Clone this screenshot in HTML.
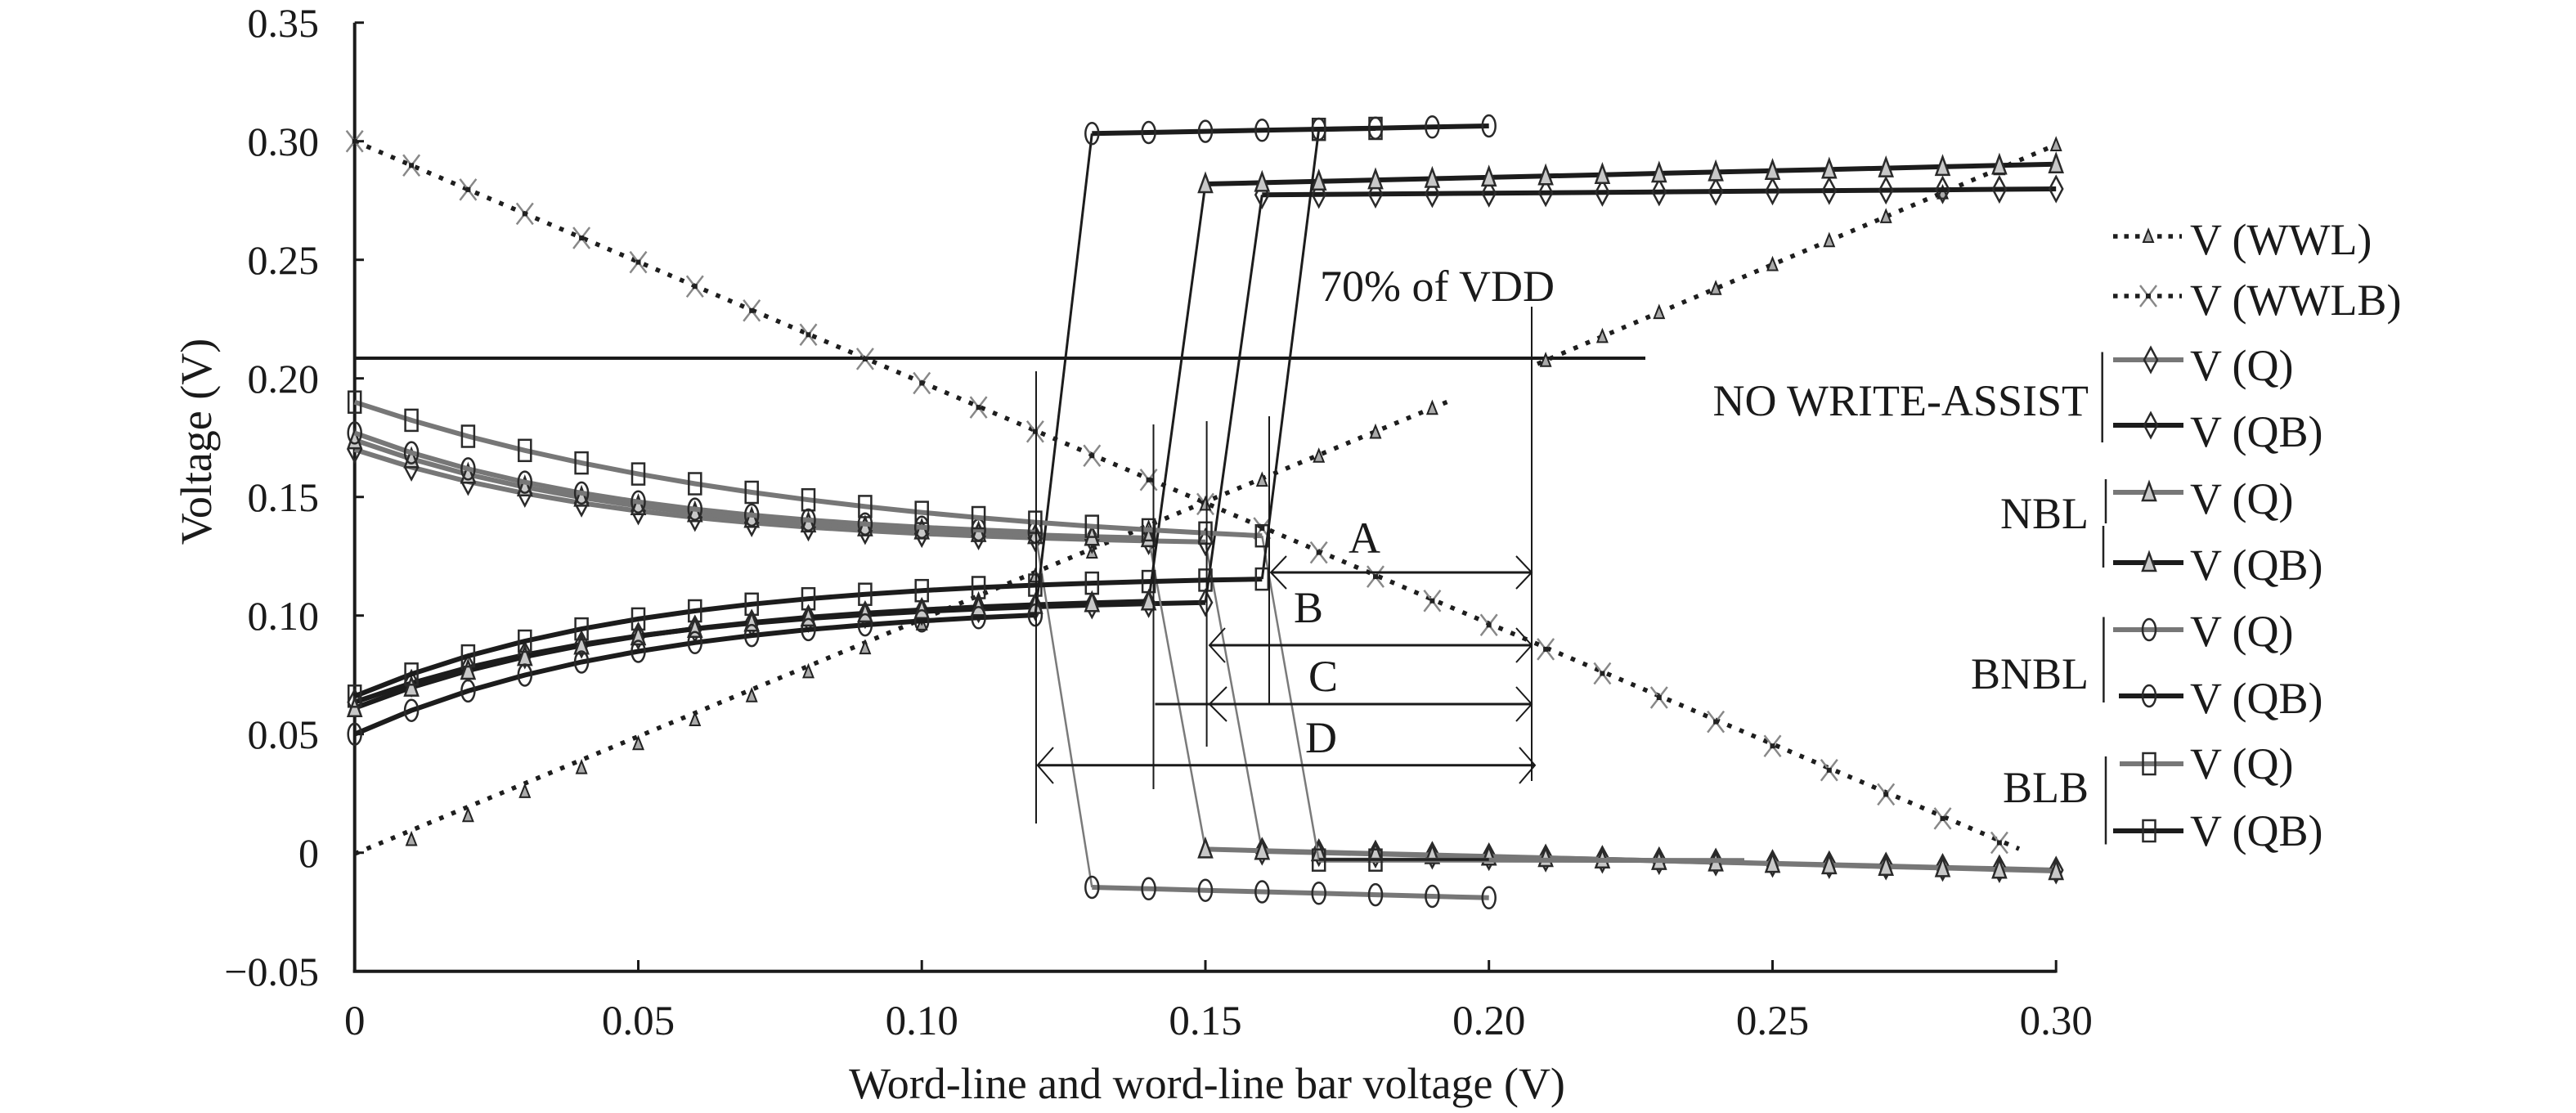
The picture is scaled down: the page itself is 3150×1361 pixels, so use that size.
<!DOCTYPE html>
<html>
<head>
<meta charset="utf-8">
<style>
html,body{margin:0;padding:0;background:#fff;}
svg{display:block;}
text{font-family:"Liberation Serif","Times New Roman",serif;fill:#1a1a1a;}
</style>
</head>
<body>
<svg width="3150" height="1361" viewBox="0 0 3150 1361" xmlns="http://www.w3.org/2000/svg">
<defs>
  <g id="mc"><ellipse cx="0" cy="0" rx="8" ry="13" fill="none" stroke="#2a2a2a" stroke-width="2.5"/></g>
  <g id="ms"><rect x="-7.5" y="-13" width="15" height="26" fill="none" stroke="#2a2a2a" stroke-width="2.5"/></g>
  <g id="md"><polygon points="0,-15 8,0 0,15 -8,0" fill="none" stroke="#2a2a2a" stroke-width="2.5"/></g>
  <g id="mt"><polygon points="0,-12 8,10 -8,10" fill="#c8c8c8" stroke="#2a2a2a" stroke-width="2.5"/></g>
  <g id="mx"><path d="M-10,-13L10,13M-10,13L10,-13" stroke="#888" stroke-width="2.5" fill="none"/><rect x="-3" y="-3" width="6" height="6" fill="#222"/></g>
  <g id="mw"><polygon points="0,-8 6,7 -6,7" fill="#aaa" stroke="#222" stroke-width="2"/></g>
</defs>

<rect x="0" y="0" width="3150" height="1361" fill="#fff"/>

<!-- Axes -->
<g stroke="#1a1a1a" fill="none">
  <line x1="433.7" y1="27.7" x2="433.7" y2="1189.5" stroke-width="4"/>
  <line x1="431.7" y1="1187.7" x2="2514.2" y2="1187.7" stroke-width="4"/>
  <g stroke-width="3">
    <line x1="433.7" y1="27.7" x2="445" y2="27.7"/>
    <line x1="433.7" y1="172.7" x2="445" y2="172.7"/>
    <line x1="433.7" y1="317.7" x2="445" y2="317.7"/>
    <line x1="433.7" y1="462.7" x2="445" y2="462.7"/>
    <line x1="433.7" y1="607.7" x2="445" y2="607.7"/>
    <line x1="433.7" y1="752.7" x2="445" y2="752.7"/>
    <line x1="433.7" y1="897.7" x2="445" y2="897.7"/>
    <line x1="433.7" y1="1042.7" x2="445" y2="1042.7"/>
    <line x1="780.5" y1="1187.7" x2="780.5" y2="1174"/>
    <line x1="1127.2" y1="1187.7" x2="1127.2" y2="1174"/>
    <line x1="1474.0" y1="1187.7" x2="1474.0" y2="1174"/>
    <line x1="1820.7" y1="1187.7" x2="1820.7" y2="1174"/>
    <line x1="2167.5" y1="1187.7" x2="2167.5" y2="1174"/>
    <line x1="2514.2" y1="1189.5" x2="2514.2" y2="1174"/>
  </g>
</g>

<!-- Tick labels -->
<g font-size="50" text-anchor="end">
  <text x="390" y="45">0.35</text>
  <text x="390" y="190">0.30</text>
  <text x="390" y="335">0.25</text>
  <text x="390" y="480">0.20</text>
  <text x="390" y="625">0.15</text>
  <text x="390" y="770">0.10</text>
  <text x="390" y="915">0.05</text>
  <text x="390" y="1060">0</text>
  <text x="390" y="1205">&#8722;0.05</text>
</g>
<g font-size="51" text-anchor="middle">
  <text x="433.7" y="1265">0</text>
  <text x="780.5" y="1265">0.05</text>
  <text x="1127.2" y="1265">0.10</text>
  <text x="1474.0" y="1265">0.15</text>
  <text x="1820.7" y="1265">0.20</text>
  <text x="2167.5" y="1265">0.25</text>
  <text x="2514.2" y="1265">0.30</text>
</g>

<!-- Axis titles -->
<text x="1476" y="1343" font-size="54" text-anchor="middle">Word-line and word-line bar voltage (V)</text>
<text transform="translate(258,540) rotate(-90)" font-size="54" text-anchor="middle">Voltage (V)</text>

<!-- 70% line -->
<line x1="433.7" y1="438" x2="2012" y2="438" stroke="#1a1a1a" stroke-width="4"/>
<text x="1614" y="368" font-size="54">70% of VDD</text>

<!-- WWLB dotted -->
<path d="M433.7,172.7 L2469,1038" stroke="#1e1e1e" stroke-width="5.5" stroke-dasharray="5.5 10.5" fill="none"/>
<g>
<use href="#mx" x="433.7" y="172.7"/><use href="#mx" x="503.1" y="202.3"/><use href="#mx" x="572.4" y="231.9"/><use href="#mx" x="641.8" y="261.4"/><use href="#mx" x="711.1" y="291.0"/><use href="#mx" x="780.5" y="320.6"/><use href="#mx" x="849.8" y="350.2"/><use href="#mx" x="919.2" y="379.8"/><use href="#mx" x="988.5" y="409.3"/><use href="#mx" x="1057.9" y="438.9"/><use href="#mx" x="1127.2" y="468.5"/><use href="#mx" x="1196.6" y="498.1"/><use href="#mx" x="1265.9" y="527.7"/><use href="#mx" x="1335.3" y="557.2"/><use href="#mx" x="1404.6" y="586.8"/><use href="#mx" x="1474.0" y="616.4"/><use href="#mx" x="1543.3" y="646.0"/><use href="#mx" x="1612.7" y="675.6"/><use href="#mx" x="1682.0" y="705.1"/><use href="#mx" x="1751.4" y="734.7"/><use href="#mx" x="1820.7" y="764.3"/><use href="#mx" x="1890.1" y="793.9"/><use href="#mx" x="1959.4" y="823.5"/><use href="#mx" x="2028.8" y="853.0"/><use href="#mx" x="2098.1" y="882.6"/><use href="#mx" x="2167.5" y="912.2"/><use href="#mx" x="2236.8" y="941.8"/><use href="#mx" x="2306.2" y="971.4"/><use href="#mx" x="2375.5" y="1000.9"/><use href="#mx" x="2444.9" y="1030.5"/>
</g>

<!-- WWL dotted -->
<path d="M433.7,1044 L1775.6,489 M1880,445 L2514.2,177" stroke="#1e1e1e" stroke-width="5.5" stroke-dasharray="5.5 10.5" fill="none"/>
<g>
<use href="#mw" x="503.1" y="1026.5"/><use href="#mw" x="572.4" y="997.2"/><use href="#mw" x="641.8" y="967.9"/><use href="#mw" x="711.1" y="938.6"/><use href="#mw" x="780.5" y="909.3"/><use href="#mw" x="849.8" y="880.0"/><use href="#mw" x="919.2" y="850.7"/><use href="#mw" x="988.5" y="821.4"/><use href="#mw" x="1057.9" y="792.1"/><use href="#mw" x="1127.2" y="762.9"/><use href="#mw" x="1196.6" y="733.6"/><use href="#mw" x="1265.9" y="704.3"/><use href="#mw" x="1335.3" y="675.0"/><use href="#mw" x="1404.6" y="645.7"/><use href="#mw" x="1474.0" y="616.4"/><use href="#mw" x="1543.3" y="587.1"/><use href="#mw" x="1612.7" y="557.8"/><use href="#mw" x="1682.0" y="528.5"/><use href="#mw" x="1751.4" y="499.2"/>
<use href="#mw" x="1890.1" y="440.7"/><use href="#mw" x="1959.4" y="411.4"/><use href="#mw" x="2028.8" y="382.1"/><use href="#mw" x="2098.1" y="352.8"/><use href="#mw" x="2167.5" y="323.5"/><use href="#mw" x="2236.8" y="294.2"/><use href="#mw" x="2306.2" y="264.9"/><use href="#mw" x="2375.5" y="235.6"/><use href="#mw" x="2444.9" y="206.3"/><use href="#mw" x="2514.2" y="177.0"/>
</g>

<!-- NO WRITE-ASSIST Q (gray, diamonds) -->
<polyline fill="none" stroke="#777" stroke-width="6" points="433.7,549.7 503.1,571.3 572.4,588.9 641.8,603.3 711.1,615.2 780.5,624.9 849.8,632.8 919.2,639.3 988.5,644.6 1057.9,648.9 1127.2,652.5 1196.6,655.4 1265.9,657.8 1335.3,659.8 1404.6,661.4 1474.0,662.7"/>
<line x1="1474.0" y1="662.7" x2="1543.3" y2="1041.0" stroke="#7a7a7a" stroke-width="2.5"/>
<polyline fill="none" stroke="#777" stroke-width="6" points="1543.3,1041.0 1612.7,1042.6 1682.0,1044.3 1751.4,1045.9 1820.7,1047.6 1890.1,1049.2 1959.4,1050.8 2028.8,1052.5 2098.1,1054.1 2167.5,1055.8 2236.8,1057.4 2306.2,1059.0 2375.5,1060.7 2444.9,1062.3 2514.2,1064.0"/>
<g>
<use href="#md" x="433.7" y="549.7"/><use href="#md" x="503.1" y="571.3"/><use href="#md" x="572.4" y="588.9"/><use href="#md" x="641.8" y="603.3"/><use href="#md" x="711.1" y="615.2"/><use href="#md" x="780.5" y="624.9"/><use href="#md" x="849.8" y="632.8"/><use href="#md" x="919.2" y="639.3"/><use href="#md" x="988.5" y="644.6"/><use href="#md" x="1057.9" y="648.9"/><use href="#md" x="1127.2" y="652.5"/><use href="#md" x="1196.6" y="655.4"/><use href="#md" x="1265.9" y="657.8"/><use href="#md" x="1335.3" y="659.8"/><use href="#md" x="1404.6" y="661.4"/><use href="#md" x="1474.0" y="662.7"/>
<use href="#md" x="1543.3" y="1041.0"/><use href="#md" x="1612.7" y="1042.6"/><use href="#md" x="1682.0" y="1044.3"/><use href="#md" x="1751.4" y="1045.9"/><use href="#md" x="1820.7" y="1047.6"/><use href="#md" x="1890.1" y="1049.2"/><use href="#md" x="1959.4" y="1050.8"/><use href="#md" x="2028.8" y="1052.5"/><use href="#md" x="2098.1" y="1054.1"/><use href="#md" x="2167.5" y="1055.8"/><use href="#md" x="2236.8" y="1057.4"/><use href="#md" x="2306.2" y="1059.0"/><use href="#md" x="2375.5" y="1060.7"/><use href="#md" x="2444.9" y="1062.3"/><use href="#md" x="2514.2" y="1064.0"/>
</g>

<!-- NO WRITE-ASSIST QB (black, diamonds) -->
<polyline fill="none" stroke="#1c1c1c" stroke-width="6" points="433.7,858.6 503.1,835.4 572.4,816.3 641.8,800.8 711.1,788.0 780.5,777.6 849.8,769.0 919.2,762.0 988.5,756.3 1057.9,751.6 1127.2,747.7 1196.6,744.6 1265.9,742.0 1335.3,739.9 1404.6,738.2 1474.0,736.8"/>
<line x1="1474.0" y1="736.8" x2="1543.3" y2="238.3" stroke="#1c1c1c" stroke-width="3"/>
<polyline fill="none" stroke="#1c1c1c" stroke-width="6" points="1543.3,238.3 1612.7,237.8 1682.0,237.3 1751.4,236.7 1820.7,236.2 1890.1,235.7 1959.4,235.2 2028.8,234.7 2098.1,234.1 2167.5,233.6 2236.8,233.1 2306.2,232.6 2375.5,232.1 2444.9,231.5 2514.2,231.0"/>
<g>
<use href="#md" x="433.7" y="858.6"/><use href="#md" x="503.1" y="835.4"/><use href="#md" x="572.4" y="816.3"/><use href="#md" x="641.8" y="800.8"/><use href="#md" x="711.1" y="788.0"/><use href="#md" x="780.5" y="777.6"/><use href="#md" x="849.8" y="769.0"/><use href="#md" x="919.2" y="762.0"/><use href="#md" x="988.5" y="756.3"/><use href="#md" x="1057.9" y="751.6"/><use href="#md" x="1127.2" y="747.7"/><use href="#md" x="1196.6" y="744.6"/><use href="#md" x="1265.9" y="742.0"/><use href="#md" x="1335.3" y="739.9"/><use href="#md" x="1404.6" y="738.2"/><use href="#md" x="1474.0" y="736.8"/>
<use href="#md" x="1543.3" y="238.3"/><use href="#md" x="1612.7" y="237.8"/><use href="#md" x="1682.0" y="237.3"/><use href="#md" x="1751.4" y="236.7"/><use href="#md" x="1820.7" y="236.2"/><use href="#md" x="1890.1" y="235.7"/><use href="#md" x="1959.4" y="235.2"/><use href="#md" x="2028.8" y="234.7"/><use href="#md" x="2098.1" y="234.1"/><use href="#md" x="2167.5" y="233.6"/><use href="#md" x="2236.8" y="233.1"/><use href="#md" x="2306.2" y="232.6"/><use href="#md" x="2375.5" y="232.1"/><use href="#md" x="2444.9" y="231.5"/><use href="#md" x="2514.2" y="231.0"/>
</g>

<!-- NBL Q (gray, triangles) -->
<polyline fill="none" stroke="#777" stroke-width="6" points="433.7,538.1 503.1,561.2 572.4,580.2 641.8,595.7 711.1,608.4 780.5,618.8 849.8,627.3 919.2,634.2 988.5,639.9 1057.9,644.6 1127.2,648.4 1196.6,651.6 1265.9,654.1 1335.3,656.2 1404.6,657.9"/>
<line x1="1404.6" y1="657.9" x2="1474.0" y2="1038.4" stroke="#7a7a7a" stroke-width="2.5"/>
<polyline fill="none" stroke="#777" stroke-width="6" points="1474.0,1038.4 1543.3,1040.2 1612.7,1042.0 1682.0,1043.7 1751.4,1045.5 1820.7,1047.3 1890.1,1049.0 1959.4,1050.8 2028.8,1052.6 2098.1,1054.4 2167.5,1056.1 2236.8,1057.9 2306.2,1059.7 2375.5,1061.4 2444.9,1063.2 2514.2,1065.0"/>
<g>
<use href="#mt" x="433.7" y="538.1"/><use href="#mt" x="503.1" y="561.2"/><use href="#mt" x="572.4" y="580.2"/><use href="#mt" x="641.8" y="595.7"/><use href="#mt" x="711.1" y="608.4"/><use href="#mt" x="780.5" y="618.8"/><use href="#mt" x="849.8" y="627.3"/><use href="#mt" x="919.2" y="634.2"/><use href="#mt" x="988.5" y="639.9"/><use href="#mt" x="1057.9" y="644.6"/><use href="#mt" x="1127.2" y="648.4"/><use href="#mt" x="1196.6" y="651.6"/><use href="#mt" x="1265.9" y="654.1"/><use href="#mt" x="1335.3" y="656.2"/><use href="#mt" x="1404.6" y="657.9"/>
<use href="#mt" x="1474.0" y="1038.4"/><use href="#mt" x="1543.3" y="1040.2"/><use href="#mt" x="1612.7" y="1042.0"/><use href="#mt" x="1682.0" y="1043.7"/><use href="#mt" x="1751.4" y="1045.5"/><use href="#mt" x="1820.7" y="1047.3"/><use href="#mt" x="1890.1" y="1049.0"/><use href="#mt" x="1959.4" y="1050.8"/><use href="#mt" x="2028.8" y="1052.6"/><use href="#mt" x="2098.1" y="1054.4"/><use href="#mt" x="2167.5" y="1056.1"/><use href="#mt" x="2236.8" y="1057.9"/><use href="#mt" x="2306.2" y="1059.7"/><use href="#mt" x="2375.5" y="1061.4"/><use href="#mt" x="2444.9" y="1063.2"/><use href="#mt" x="2514.2" y="1065.0"/>
</g>

<!-- NBL QB (black, triangles) -->
<polyline fill="none" stroke="#1c1c1c" stroke-width="6" points="433.7,865.8 503.1,840.6 572.4,820.0 641.8,803.1 711.1,789.3 780.5,778.0 849.8,768.7 919.2,761.2 988.5,754.9 1057.9,749.9 1127.2,745.7 1196.6,742.3 1265.9,739.5 1335.3,737.2 1404.6,735.3"/>
<line x1="1404.6" y1="735.3" x2="1474.0" y2="225.0" stroke="#1c1c1c" stroke-width="3"/>
<polyline fill="none" stroke="#1c1c1c" stroke-width="6" points="1474.0,225.0 1543.3,223.4 1612.7,221.8 1682.0,220.1 1751.4,218.5 1820.7,216.9 1890.1,215.3 1959.4,213.7 2028.8,212.0 2098.1,210.4 2167.5,208.8 2236.8,207.2 2306.2,205.6 2375.5,203.9 2444.9,202.3 2514.2,200.7"/>
<g>
<use href="#mt" x="433.7" y="865.8"/><use href="#mt" x="503.1" y="840.6"/><use href="#mt" x="572.4" y="820.0"/><use href="#mt" x="641.8" y="803.1"/><use href="#mt" x="711.1" y="789.3"/><use href="#mt" x="780.5" y="778.0"/><use href="#mt" x="849.8" y="768.7"/><use href="#mt" x="919.2" y="761.2"/><use href="#mt" x="988.5" y="754.9"/><use href="#mt" x="1057.9" y="749.9"/><use href="#mt" x="1127.2" y="745.7"/><use href="#mt" x="1196.6" y="742.3"/><use href="#mt" x="1265.9" y="739.5"/><use href="#mt" x="1335.3" y="737.2"/><use href="#mt" x="1404.6" y="735.3"/>
<use href="#mt" x="1474.0" y="225.0"/><use href="#mt" x="1543.3" y="223.4"/><use href="#mt" x="1612.7" y="221.8"/><use href="#mt" x="1682.0" y="220.1"/><use href="#mt" x="1751.4" y="218.5"/><use href="#mt" x="1820.7" y="216.9"/><use href="#mt" x="1890.1" y="215.3"/><use href="#mt" x="1959.4" y="213.7"/><use href="#mt" x="2028.8" y="212.0"/><use href="#mt" x="2098.1" y="210.4"/><use href="#mt" x="2167.5" y="208.8"/><use href="#mt" x="2236.8" y="207.2"/><use href="#mt" x="2306.2" y="205.6"/><use href="#mt" x="2375.5" y="203.9"/><use href="#mt" x="2444.9" y="202.3"/><use href="#mt" x="2514.2" y="200.7"/>
</g>

<!-- BNBL Q (gray, circles) -->
<polyline fill="none" stroke="#777" stroke-width="6" points="433.7,529.4 503.1,553.6 572.4,573.4 641.8,589.6 711.1,602.9 780.5,613.7 849.8,622.6 919.2,629.9 988.5,635.9 1057.9,640.7 1127.2,644.8 1196.6,648.0 1265.9,650.7"/>
<line x1="1265.9" y1="650.7" x2="1335.3" y2="1085.0" stroke="#7a7a7a" stroke-width="2.5"/>
<polyline fill="none" stroke="#777" stroke-width="6" points="1335.3,1085.0 1404.6,1086.8 1474.0,1088.7 1543.3,1090.5 1612.7,1092.3 1682.0,1094.1 1751.4,1096.0 1820.7,1097.8"/>
<g>
<use href="#mc" x="433.7" y="529.4"/><use href="#mc" x="503.1" y="553.6"/><use href="#mc" x="572.4" y="573.4"/><use href="#mc" x="641.8" y="589.6"/><use href="#mc" x="711.1" y="602.9"/><use href="#mc" x="780.5" y="613.7"/><use href="#mc" x="849.8" y="622.6"/><use href="#mc" x="919.2" y="629.9"/><use href="#mc" x="988.5" y="635.9"/><use href="#mc" x="1057.9" y="640.7"/><use href="#mc" x="1127.2" y="644.8"/><use href="#mc" x="1196.6" y="648.0"/><use href="#mc" x="1265.9" y="650.7"/>
<use href="#mc" x="1335.3" y="1085.0"/><use href="#mc" x="1404.6" y="1086.8"/><use href="#mc" x="1474.0" y="1088.7"/><use href="#mc" x="1543.3" y="1090.5"/><use href="#mc" x="1612.7" y="1092.3"/><use href="#mc" x="1682.0" y="1094.1"/><use href="#mc" x="1751.4" y="1096.0"/><use href="#mc" x="1820.7" y="1097.8"/>
</g>

<!-- BNBL QB (black, circles) -->
<polyline fill="none" stroke="#1c1c1c" stroke-width="6" points="433.7,897.7 503.1,868.7 572.4,844.9 641.8,825.5 711.1,809.5 780.5,796.5 849.8,785.8 919.2,777.1 988.5,769.9 1057.9,764.1 1127.2,759.3 1196.6,755.3 1265.9,752.1"/>
<line x1="1265.9" y1="752.1" x2="1335.3" y2="163.3" stroke="#1c1c1c" stroke-width="3"/>
<polyline fill="none" stroke="#1c1c1c" stroke-width="6" points="1335.3,163.3 1404.6,162.0 1474.0,160.6 1543.3,159.3 1612.7,158.0 1682.0,156.7 1751.4,155.3 1820.7,154.0"/>
<g>
<use href="#mc" x="433.7" y="897.7"/><use href="#mc" x="503.1" y="868.7"/><use href="#mc" x="572.4" y="844.9"/><use href="#mc" x="641.8" y="825.5"/><use href="#mc" x="711.1" y="809.5"/><use href="#mc" x="780.5" y="796.5"/><use href="#mc" x="849.8" y="785.8"/><use href="#mc" x="919.2" y="777.1"/><use href="#mc" x="988.5" y="769.9"/><use href="#mc" x="1057.9" y="764.1"/><use href="#mc" x="1127.2" y="759.3"/><use href="#mc" x="1196.6" y="755.3"/><use href="#mc" x="1265.9" y="752.1"/>
<use href="#mc" x="1335.3" y="163.3"/><use href="#mc" x="1404.6" y="162.0"/><use href="#mc" x="1474.0" y="160.6"/><use href="#mc" x="1543.3" y="159.3"/><use href="#mc" x="1612.7" y="158.0"/><use href="#mc" x="1682.0" y="156.7"/><use href="#mc" x="1751.4" y="155.3"/><use href="#mc" x="1820.7" y="154.0"/>
</g>

<!-- BLB Q (gray, squares) -->
<polyline fill="none" stroke="#777" stroke-width="6" points="433.7,491.7 503.1,513.9 572.4,533.5 641.8,550.8 711.1,566.1 780.5,579.6 849.8,591.5 919.2,602.0 988.5,611.2 1057.9,619.4 1127.2,626.6 1196.6,633.0 1265.9,638.6 1335.3,643.6 1404.6,647.9 1474.0,651.8 1543.3,655.2"/>
<line x1="1543.3" y1="655.2" x2="1612.7" y2="1051.7" stroke="#7a7a7a" stroke-width="2.5"/>
<polyline fill="none" stroke="#777" stroke-width="6" points="1612.7,1051.7 1682.0,1051.7 1751.4,1051.7 1820.7,1051.7 1890.1,1051.9 1959.4,1052.0 2028.8,1052.1 2133,1052.2"/>
<line x1="1612.7" y1="1051" x2="1820.7" y2="1051" stroke="#222" stroke-width="3.5"/>
<g>
<use href="#ms" x="433.7" y="491.7"/><use href="#ms" x="503.1" y="513.9"/><use href="#ms" x="572.4" y="533.5"/><use href="#ms" x="641.8" y="550.8"/><use href="#ms" x="711.1" y="566.1"/><use href="#ms" x="780.5" y="579.6"/><use href="#ms" x="849.8" y="591.5"/><use href="#ms" x="919.2" y="602.0"/><use href="#ms" x="988.5" y="611.2"/><use href="#ms" x="1057.9" y="619.4"/><use href="#ms" x="1127.2" y="626.6"/><use href="#ms" x="1196.6" y="633.0"/><use href="#ms" x="1265.9" y="638.6"/><use href="#ms" x="1335.3" y="643.6"/><use href="#ms" x="1404.6" y="647.9"/><use href="#ms" x="1474.0" y="651.8"/><use href="#ms" x="1543.3" y="655.2"/>
<use href="#ms" x="1612.7" y="1051.7"/><use href="#ms" x="1682.0" y="1051.7"/>
</g>

<!-- BLB QB (black, squares) -->
<polyline fill="none" stroke="#1c1c1c" stroke-width="6" points="433.7,851.3 503.1,824.3 572.4,802.1 641.8,784.0 711.1,769.1 780.5,756.9 849.8,747.0 919.2,738.8 988.5,732.2 1057.9,726.7 1127.2,722.2 1196.6,718.5 1265.9,715.5 1335.3,713.1 1404.6,711.1 1474.0,709.4 1543.3,708.1"/>
<line x1="1543.3" y1="708.1" x2="1612.7" y2="158.2" stroke="#1c1c1c" stroke-width="3"/>
<polyline fill="none" stroke="#1c1c1c" stroke-width="6" points="1612.7,158.2 1682.0,157.0"/>
<g>
<use href="#ms" x="433.7" y="851.3"/><use href="#ms" x="503.1" y="824.3"/><use href="#ms" x="572.4" y="802.1"/><use href="#ms" x="641.8" y="784.0"/><use href="#ms" x="711.1" y="769.1"/><use href="#ms" x="780.5" y="756.9"/><use href="#ms" x="849.8" y="747.0"/><use href="#ms" x="919.2" y="738.8"/><use href="#ms" x="988.5" y="732.2"/><use href="#ms" x="1057.9" y="726.7"/><use href="#ms" x="1127.2" y="722.2"/><use href="#ms" x="1196.6" y="718.5"/><use href="#ms" x="1265.9" y="715.5"/><use href="#ms" x="1335.3" y="713.1"/><use href="#ms" x="1404.6" y="711.1"/><use href="#ms" x="1474.0" y="709.4"/><use href="#ms" x="1543.3" y="708.1"/>
<use href="#ms" x="1612.7" y="158.2"/><use href="#ms" x="1682.0" y="157.0"/>
</g>

<!-- Dimension lines -->
<g stroke="#1a1a1a" fill="none">
  <g stroke-width="2">
    <line x1="1267" y1="454" x2="1267" y2="1007"/>
    <line x1="1410.5" y1="519" x2="1410.5" y2="965"/>
    <line x1="1475.6" y1="515" x2="1475.6" y2="913"/>
    <line x1="1552" y1="509" x2="1552" y2="860"/>
    <line x1="1873" y1="375" x2="1873" y2="955"/>
  </g>
  <g stroke-width="3">
    <line x1="1554" y1="700" x2="1873" y2="700"/>
    <line x1="1479" y1="789" x2="1873" y2="789"/>
    <line x1="1412.5" y1="861" x2="1873" y2="861"/>
    <line x1="1268.7" y1="935.7" x2="1877" y2="935.7"/>
  </g>
  <g stroke-width="2">
    <polyline points="1573,680 1554,700 1573,720"/>
    <polyline points="1854,680 1873,700 1854,720"/>
    <polyline points="1498,768 1479,789 1498,810"/>
    <polyline points="1854,768 1873,789 1854,810"/>
    <polyline points="1500,840 1479,861 1500,882"/>
    <polyline points="1854,840 1873,861 1854,882"/>
    <polyline points="1288,914 1268.7,935.7 1288,958"/>
    <polyline points="1858,914 1877,935.7 1858,958"/>
  </g>
</g>
<g font-size="54">
  <text x="1649" y="676">A</text>
  <text x="1582" y="761">B</text>
  <text x="1600" y="845">C</text>
  <text x="1596" y="920">D</text>
</g>

<!-- Legend -->
<g>
  <line x1="2584" y1="289" x2="2668" y2="289" stroke="#1e1e1e" stroke-width="5.5" stroke-dasharray="5.5 8"/>
  <use href="#mw" x="2627" y="289"/>
  <line x1="2584" y1="362" x2="2668" y2="362" stroke="#1e1e1e" stroke-width="5.5" stroke-dasharray="5.5 8"/>
  <use href="#mx" x="2627" y="362"/>

  <line x1="2584" y1="440" x2="2670" y2="440" stroke="#777" stroke-width="6"/>
  <use href="#md" x="2630" y="440"/>
  <line x1="2584" y1="520" x2="2670" y2="520" stroke="#1c1c1c" stroke-width="6"/>
  <use href="#md" x="2630" y="520"/>

  <line x1="2584" y1="602" x2="2670" y2="602" stroke="#777" stroke-width="6"/>
  <use href="#mt" x="2628" y="602"/>
  <line x1="2584" y1="688" x2="2670" y2="688" stroke="#1c1c1c" stroke-width="6"/>
  <use href="#mt" x="2628" y="688"/>

  <line x1="2584" y1="770" x2="2670" y2="770" stroke="#777" stroke-width="6"/>
  <use href="#mc" x="2628" y="770"/>
  <line x1="2591" y1="851" x2="2670" y2="851" stroke="#1c1c1c" stroke-width="6"/>
  <use href="#mc" x="2628" y="851"/>

  <line x1="2592" y1="934" x2="2670" y2="934" stroke="#777" stroke-width="6"/>
  <use href="#ms" x="2628" y="934"/>
  <line x1="2584" y1="1016" x2="2670" y2="1016" stroke="#1c1c1c" stroke-width="6"/>
  <use href="#ms" x="2628" y="1016"/>

  <g stroke="#222" stroke-width="2.5">
    <line x1="2570.7" y1="430.5" x2="2570.7" y2="541"/>
    <line x1="2575" y1="586" x2="2575" y2="640"/>
    <line x1="2572" y1="643" x2="2572" y2="694"/>
    <line x1="2572.4" y1="754.5" x2="2572.4" y2="859"/>
    <line x1="2575" y1="925" x2="2575" y2="1032.5"/>
  </g>

  <g font-size="54">
    <text x="2678" y="311">V (WWL)</text>
    <text x="2678" y="385">V (WWLB)</text>
    <text x="2678" y="465">V (Q)</text>
    <text x="2678" y="546">V (QB)</text>
    <text x="2678" y="628">V (Q)</text>
    <text x="2678" y="709">V (QB)</text>
    <text x="2678" y="790">V (Q)</text>
    <text x="2678" y="872">V (QB)</text>
    <text x="2678" y="952">V (Q)</text>
    <text x="2678" y="1034">V (QB)</text>
  </g>
  <g font-size="54" text-anchor="end">
    <text x="2554" y="508">NO WRITE-ASSIST</text>
    <text x="2554" y="646">NBL</text>
    <text x="2554" y="842">BNBL</text>
    <text x="2554" y="981">BLB</text>
  </g>
</g>
</svg>
</body>
</html>
